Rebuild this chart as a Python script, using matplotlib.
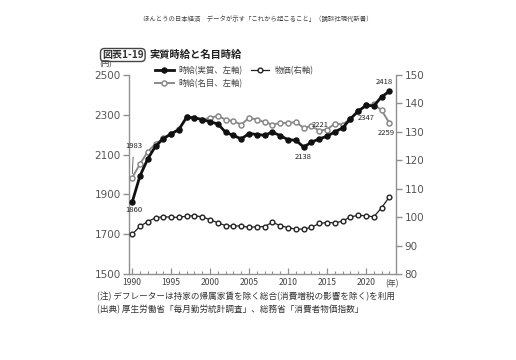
import matplotlib
matplotlib.use("Agg")
import matplotlib.pyplot as plt
from matplotlib.ticker import MultipleLocator

plt.rcParams['font.family'] = ['Noto Sans CJK JP', 'DejaVu Sans']

years = list(range(1990, 2024))
real_wage = [1860, 1992, 2078, 2142, 2180, 2204, 2226, 2288, 2285, 2276, 2265, 2254,
             2212, 2196, 2179, 2206, 2201, 2197, 2213, 2195, 2175, 2172, 2138, 2162,
             2179, 2192, 2214, 2234, 2280, 2318, 2347, 2345, 2390, 2418]
nominal_wage = [1983, 2052, 2115, 2154, 2182, 2206, 2228, 2288, 2282, 2276, 2285, 2294,
                2276, 2268, 2251, 2285, 2276, 2263, 2251, 2259, 2259, 2263, 2234, 2243,
                2221, 2226, 2256, 2251, 2280, 2318, 2347, 2352, 2323, 2259]
cpi = [93.9, 96.8, 98.4, 99.8, 100.1, 100.0, 99.9, 100.4, 100.5, 100.1, 99.1, 98.0,
       97.0, 96.9, 96.9, 96.4, 96.6, 96.7, 98.2, 97.0, 96.3, 95.8, 95.8, 96.4,
       97.8, 98.1, 98.0, 98.6, 100.1, 100.6, 100.5, 100.1, 103.3, 107.1]

left_ticks = [1500, 1700, 1900, 2100, 2300, 2500]
right_ticks = [80, 90, 100, 110, 120, 130, 140, 150]
x_ticks = [1990, 1995, 2000, 2005, 2010, 2015, 2020]

label_real = "時給(実質、左軸)"
label_nominal = "時給(名目、左軸)"
label_cpi = "物価(右軸)"

header = "ほんとうの日本経済　データが示す「これから起こること」（講談社現代新書）"
fig_no = "図表1-19"
title = "実質時給と名目時給"
note1 = "(注) デフレーターは持家の帰属家賃を除く総合(消費増税の影響を除く)を利用"
note2 = "(出典) 厚生労働省「毎月勤労統計調査」、総務省「消費者物価指数」"

grey = "#8a8a8a"
axc = "#909090"
txtc = "#444444"

fig = plt.figure(figsize=(5.16, 3.6), dpi=100)
ax = fig.add_axes([129/516, 1 - 274/360, (396-129)/516, (274-75)/360])
ax2 = ax.twinx()

ax.plot(years, nominal_wage, color=grey, lw=1.4, marker='o', ms=3.6,
        mfc='white', mec=grey, mew=1.1, label=label_nominal, zorder=3)
ax.plot(years, real_wage, color='#111111', lw=2.0, marker='o', ms=3.6,
        mfc='#111111', mec='#111111', label=label_real, zorder=4)
ax2.plot(years, cpi, color='#222222', lw=0.9, marker='o', ms=3.4,
         mfc='white', mec='#222222', mew=1.0, label=label_cpi, zorder=3)

ax.set_xlim(1989.6, 2023.85)
ax.set_ylim(1500, 2500)
ax2.set_ylim(80, 150)
ax.set_yticks(left_ticks)
ax2.set_yticks(right_ticks)
ax.set_xticks(x_ticks)
ax.xaxis.set_minor_locator(MultipleLocator(1))

for a in (ax, ax2):
    a.spines['top'].set_visible(False)
    for s in a.spines.values():
        s.set_color(axc)
        s.set_linewidth(1.0)
ax.spines['right'].set_visible(False)
ax2.spines['left'].set_visible(False)
ax2.spines['bottom'].set_visible(False)

ax.tick_params(axis='y', colors=axc, labelcolor='#555555', labelsize=7.5, length=4, width=1, pad=2)
ax2.tick_params(axis='y', colors=axc, labelcolor='#555555', labelsize=7.5, length=4, width=1, pad=2)
ax.tick_params(axis='x', which='major', direction='in', colors=axc, labelcolor=txtc,
               labelsize=6.2, length=4, width=0.9, pad=3)
ax.tick_params(axis='x', which='minor', direction='in', colors=axc, length=2.5, width=0.8)
for lab in ax.get_yticklabels() + ax2.get_yticklabels():
    lab.set_fontfamily(['DejaVu Sans'])

# annotations
ann_kw = dict(fontsize=5.5, color='#222222', ha='center', va='center')
ax.annotate("1983", xy=(years[0], nominal_wage[0]), xytext=(1990.2, 2143),
            arrowprops=dict(arrowstyle='-', color='#555555', lw=0.6,
                            shrinkA=3, shrinkB=3), **ann_kw)
ax.text(1990.2, 1820, "1860", **ann_kw)
ax.text(2012, 2090, "2138", **ann_kw)
ax.text(2014.1, 2250, "2221", **ann_kw)
ax.annotate("2347", xy=(2020, real_wage[30]), xytext=(2020, 2285),
            arrowprops=dict(arrowstyle='-', color='#555555', lw=0.6,
                            shrinkA=3, shrinkB=3), **ann_kw)
ax.text(2022.6, 2210, "2259", **ann_kw)
ax.text(2022.3, 2463, "2418", **ann_kw)

# legend
h1, l1 = ax.get_legend_handles_labels()
h2, l2 = ax2.get_legend_handles_labels()
handles = [h1[1], h1[0], h2[0]]
labels = [l1[1], l1[0], l2[0]]
leg = fig.legend(handles, labels, ncol=2, loc='upper left',
                 bbox_to_anchor=(151/516, 1 - 62/360), frameon=False,
                 fontsize=6.0, handlelength=2.2, handletextpad=0.6,
                 columnspacing=1.0, labelspacing=0.45, borderpad=0)
for t in leg.get_texts():
    t.set_color(txtc)

# texts
fig.text(258/516, 1 - 19/360, header, fontsize=4.6, color='#444444', ha='center', va='center')
fig.text(102/516, 1 - 55/360, fig_no, fontsize=7.2, fontweight='bold', color='#333333',
         ha='left', va='center',
         bbox=dict(boxstyle='round,pad=0.15,rounding_size=0.4', fc='white',
                   ec='#444444', lw=1.0))
fig.text(150/516, 1 - 55/360, title, fontsize=7.4, fontweight='bold', color='#222222',
         ha='left', va='center')
fig.text(106/516, 1 - 65/360, "(円)", fontsize=5.5, color=txtc, ha='center', va='center')
fig.text(392/516, 1 - 284/360, "(年)", fontsize=5.8, color=txtc, ha='center', va='center')
fig.text(97/516, 1 - 297/360, note1, fontsize=6.2, color='#333333', ha='left', va='center')
fig.text(97/516, 1 - 310/360, note2, fontsize=6.2, color='#333333', ha='left', va='center')

fig.savefig("out.png", dpi=100, facecolor='white')
